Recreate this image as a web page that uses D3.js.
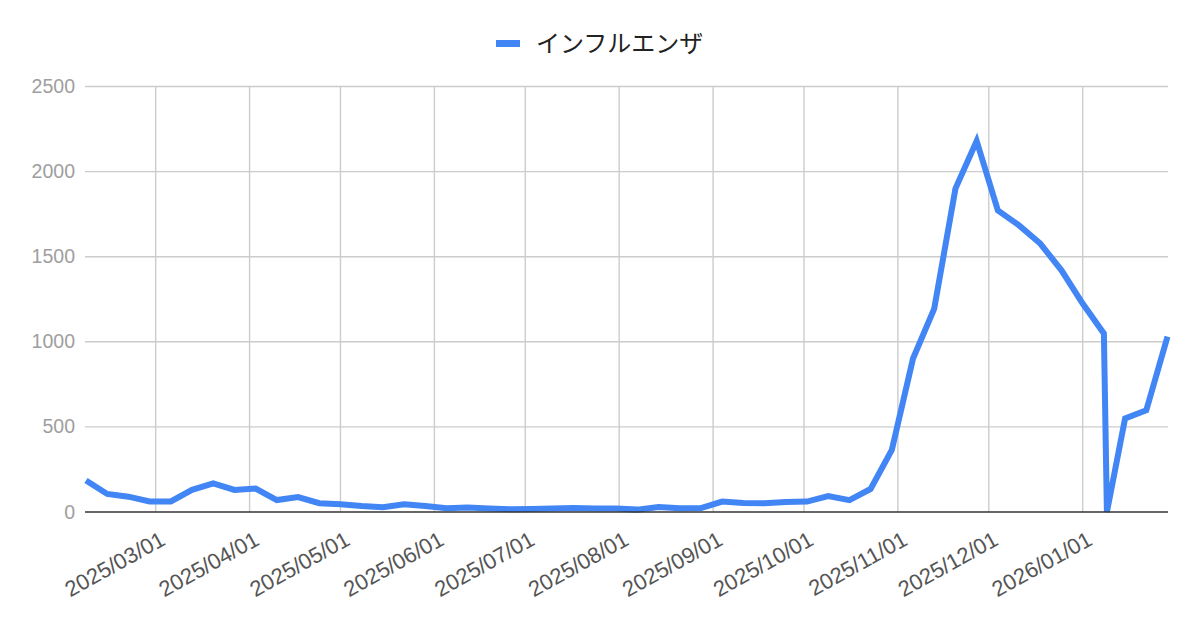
<!DOCTYPE html>
<html>
<head>
<meta charset="utf-8">
<script src="https://cdn.jsdelivr.net/npm/d3@7"></script>
<style>
  html, body { margin: 0; padding: 0; background: #fff; }
  svg { display: block; }
</style>
</head>
<body>
<svg id="chart" width="1200" height="626"></svg>
<script>
// ---- data ----
const seriesName = "インフルエンザ";
const dates = [
  "2025-02-06","2025-02-13","2025-02-20","2025-02-27",
  "2025-03-06","2025-03-13","2025-03-20","2025-03-27",
  "2025-04-03","2025-04-10","2025-04-17","2025-04-24",
  "2025-05-01","2025-05-08","2025-05-15","2025-05-22","2025-05-29",
  "2025-06-05","2025-06-12","2025-06-19","2025-06-26",
  "2025-07-03","2025-07-10","2025-07-17","2025-07-24","2025-07-31",
  "2025-08-07","2025-08-14","2025-08-21","2025-08-28",
  "2025-09-04","2025-09-11","2025-09-18","2025-09-25",
  "2025-10-02","2025-10-09","2025-10-16","2025-10-23","2025-10-30",
  "2025-11-06","2025-11-13","2025-11-20","2025-11-27",
  "2025-12-04","2025-12-11","2025-12-18","2025-12-25",
  "2026-01-01","2026-01-08","2026-01-09","2026-01-15","2026-01-22","2026-01-29"
];
const values = [
  185, 106, 90, 62,
  62, 130, 168, 130,
  138, 70, 88, 52,
  45, 35, 28, 45, 35,
  22, 26, 20, 16,
  18, 20, 23, 20, 20,
  14, 29, 22, 23,
  61, 53, 51, 59,
  61, 94, 70, 135, 364,
  902, 1195, 1900, 2180,
  1772, 1684, 1577, 1420,
  1225, 1049, 0, 550, 598, 1030
];
const yTicks = [0, 500, 1000, 1500, 2000, 2500];
const xTickDates = [
  "2025-03-01","2025-04-01","2025-05-01","2025-06-01","2025-07-01",
  "2025-08-01","2025-09-01","2025-10-01","2025-11-01","2025-12-01","2026-01-01"
];

// ---- layout ----
const parse = d3.utcParse("%Y-%m-%d");
const fmt = d3.utcFormat("%Y/%m/%d");
const data = dates.map((d, i) => ({ date: parse(d), value: values[i] }));
const plotLeft = 85, plotRight = 1168, plotTop = 86.5, plotBottom = 512;

const svg = d3.select("#chart");

const x = d3.scaleUtc()
  .domain(d3.extent(data, d => d.date))
  .range([86, 1167.5]);
const y = d3.scaleLinear().domain([0, 2500]).range([plotBottom, plotTop]);

// horizontal grid
svg.append("g").selectAll("line")
  .data(yTicks.filter(t => t !== 0))
  .join("line")
  .attr("x1", plotLeft).attr("x2", plotRight)
  .attr("y1", d => y(d)).attr("y2", d => y(d))
  .attr("stroke", "#cccccc").attr("stroke-width", 1.4);

// vertical grid
const xTicks = xTickDates.map(parse);
svg.append("g").selectAll("line")
  .data(xTicks)
  .join("line")
  .attr("x1", d => x(d)).attr("x2", d => x(d))
  .attr("y1", plotTop).attr("y2", plotBottom)
  .attr("stroke", "#cccccc").attr("stroke-width", 1.4);

// y labels
svg.append("g").selectAll("text")
  .data(yTicks)
  .join("text")
  .attr("x", 75)
  .attr("y", d => y(d) + 6.5)
  .attr("text-anchor", "end")
  .attr("font-family", "Liberation Sans, Arial, sans-serif")
  .attr("font-size", 19.5)
  .attr("fill", "#9e9e9e")
  .text(d => d);

// x labels (slanted)
svg.append("g").selectAll("text")
  .data(xTicks)
  .join("text")
  .attr("text-anchor", "end")
  .attr("transform", d => `translate(${x(d) + 11},${544}) rotate(-29)`)
  .attr("font-family", "Liberation Sans, Arial, sans-serif")
  .attr("font-size", 22)
  .attr("fill", "#555555")
  .text(d => fmt(d));

// data line
const line = d3.line().x(d => x(d.date)).y(d => y(d.value));
svg.append("path")
  .datum(data)
  .attr("d", line)
  .attr("fill", "none")
  .attr("stroke", "#4285F4")
  .attr("stroke-width", 6);

// baseline
svg.append("line")
  .attr("x1", plotLeft).attr("x2", plotRight)
  .attr("y1", y(0)).attr("y2", y(0))
  .attr("stroke", "#333333").attr("stroke-width", 1.5);

// legend
const lg = svg.append("g");
lg.append("rect")
  .attr("x", 496).attr("y", 40).attr("width", 24).attr("height", 7)
  .attr("fill", "#4285F4");
lg.append("text")
  .attr("x", 536).attr("y", 52)
  .attr("font-family", "Noto Sans CJK JP, sans-serif")
  .attr("font-size", 24)
  .attr("fill", "#222222")
  .text(seriesName);
</script>
</body>
</html>
